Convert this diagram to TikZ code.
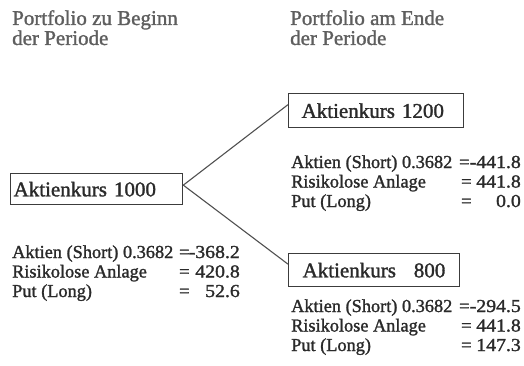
\documentclass[tikz,border=0pt]{standalone}
\usepackage{fontspec}
\setmainfont{Liberation Serif}[FakeBold=1.4]
\definecolor{headgrey}{HTML}{5E5E5E}
\definecolor{textdark}{HTML}{2A2A2A}
\definecolor{boxgrey}{HTML}{3C3C3C}
\definecolor{linegrey}{HTML}{505050}
\newcommand{\wide}[1]{\scalebox{1.08}[1]{#1}}
\begin{document}
\begin{tikzpicture}[x=1pt,y=-1pt,
  head/.style={anchor=base west, inner sep=0pt, text=headgrey, font=\fontsize{21}{22}\selectfont},
  kursbox/.style={draw=boxgrey, line width=1.3pt, anchor=north west, inner ysep=0pt,
    text=textdark, font=\fontsize{21}{22}\selectfont, align=left},
  row/.style={anchor=base west, inner sep=0pt, text=textdark, font=\fontsize{18.3}{20}\selectfont},
  num/.style={anchor=base east, inner sep=0pt, text=textdark, font=\fontsize{18.3}{20}\selectfont},
  branch/.style={draw=linegrey, line width=1.1pt}
]
\useasboundingbox (0,0) rectangle (524,366);

% column headings
\node[head] (h0a) at (12,25) {Portfolio zu Beginn};
\node[head] (h0b) at (12,45) {der Periode};
\node[head] (h1a) at (290,25) {Portfolio am Ende};
\node[head] (h1b) at (290,45) {der Periode};

% share price boxes
\node[kursbox, inner xsep=3pt, text width=166pt, minimum height=31pt] (k0) at (10,173) {Aktienkurs 1000};
\node[kursbox, inner xsep=13pt, text width=149pt, minimum height=34pt] (k1) at (288,93) {Aktienkurs 1200};
\node[kursbox, inner xsep=14pt, text width=143pt, minimum height=33pt] (k2) at (288,253) {Aktienkurs\hspace{0.85em}800};

% tree branches
\coordinate (s0) at ([yshift=4pt]k0.east);
\draw[branch] (s0) -- ([yshift=6pt]k1.west);
\draw[branch] (s0) -- ([yshift=6pt]k2.west);

% portfolio at the start
\foreach \lab/\val [count=\i] in {Aktien (Short) 0.3682/-368.2, Risikolose Anlage/420.8, Put (Long)/52.6}{
  \pgfmathsetmacro{\yy}{258+19.5*(\i-1)}
  \node[row] (a\i) at (12,\yy) {\lab};
  \node[row] (ae\i) at (179,\yy) {=};
  \node[num] (av\i) at (240,\yy) {\wide{\val}};
}

% portfolio at the end, price 1200
\foreach \lab/\val/\ex [count=\i] in {Aktien (Short) 0.3682/-441.8/459, Risikolose Anlage/441.8/461, Put (Long)/0.0/461}{
  \pgfmathsetmacro{\yy}{168+19.5*(\i-1)}
  \node[row] (b\i) at (291,\yy) {\lab};
  \node[row] (be\i) at (\ex,\yy) {=};
  \node[num] (bv\i) at (521,\yy) {\wide{\val}};
}

% portfolio at the end, price 800
\foreach \lab/\val/\ex [count=\i] in {Aktien (Short) 0.3682/-294.5/459, Risikolose Anlage/441.8/461, Put (Long)/147.3/461}{
  \pgfmathsetmacro{\yy}{312+19.5*(\i-1)}
  \node[row] (c\i) at (291,\yy) {\lab};
  \node[row] (ce\i) at (\ex,\yy) {=};
  \node[num] (cv\i) at (521,\yy) {\wide{\val}};
}
\end{tikzpicture}
\end{document}
